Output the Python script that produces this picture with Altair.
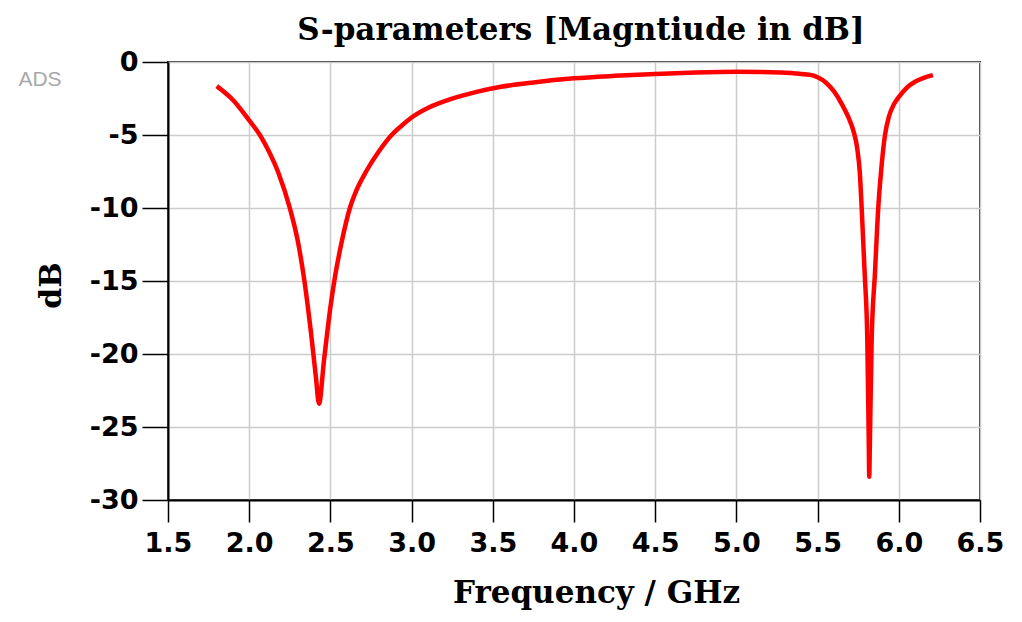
import altair as alt
import pandas as pd

freq_ghz = [1.80, 1.90, 2.00, 2.066, 2.12, 2.18, 2.25, 2.30, 2.34, 2.38, 2.41, 2.43,
            2.46, 2.50, 2.53, 2.57, 2.62, 2.66, 2.72, 2.80, 2.877, 2.94, 3.00, 3.10,
            3.24, 3.40, 3.55, 3.75, 4.00, 4.25, 4.50, 4.75, 5.00, 5.27, 5.40, 5.47,
            5.50, 5.55, 5.60, 5.65, 5.69, 5.72, 5.745, 5.76, 5.771, 5.79, 5.806, 5.815, 5.818,
            5.822, 5.833, 5.853, 5.874, 5.89, 5.915, 5.94, 5.97, 6.00, 6.05, 6.10, 6.15, 6.21]
mag_db = [-1.65, -2.6, -4.0, -5.0, -6.1, -7.6, -10.0, -12.3, -15.0, -18.5, -21.5, -23.4,
          -20.5, -16.8, -14.6, -12.3, -10.0, -8.8, -7.5, -6.1, -5.0, -4.35, -3.8, -3.15,
          -2.55, -2.05, -1.7, -1.4, -1.12, -0.95, -0.82, -0.72, -0.67, -0.72, -0.82, -0.92,
          -1.05, -1.4, -2.0, -2.9, -3.8, -4.7, -6.0, -7.6, -9.9, -14.5, -19.0, -26.0, -28.4,
          -26.0, -19.0, -14.5, -9.9, -7.6, -5.0, -3.7, -2.9, -2.4, -1.75, -1.35, -1.1, -0.9]

x_ticks = [1.5, 2.0, 2.5, 3.0, 3.5, 4.0, 4.5, 5.0, 5.5, 6.0, 6.5]
y_ticks = [0, -5, -10, -15, -20, -25, -30]

chart_title = "S-parameters [Magntiude in dB]"
watermark = "ADS"

df = pd.DataFrame({"f": freq_ghz, "db": mag_db})

serif = "DejaVu Serif"
sans = "DejaVu Sans"

line = alt.Chart(df).mark_line(color="#ff0000", strokeWidth=4.5, interpolate="monotone").encode(
    x=alt.X("f:Q",
            scale=alt.Scale(domain=[1.5, 6.5], nice=False, zero=False),
            axis=alt.Axis(values=x_ticks, format=".1f", title="Frequency / GHz",
                          grid=True, gridColor="#cccccc", gridWidth=1.5,
                          domainColor="#000000", domainWidth=2,
                          tickColor="#000000", tickWidth=1.5, tickSize=22,
                          labelFont=sans, labelFontWeight="bold", labelFontSize=27,
                          labelColor="#000000", labelPadding=8, labelFlush=False,
                          titleFont=serif, titleFontWeight="bold", titleFontSize=31,
                          titleColor="#000000", titleX=428, titleY=102,
                          titleAlign="center", titleBaseline="alphabetic")),
    y=alt.Y("db:Q",
            scale=alt.Scale(domain=[-30, 0], nice=False, zero=False),
            axis=alt.Axis(values=y_ticks, title="dB",
                          labelExpr="datum.value == 0 ? '0' : '-' + abs(datum.value)",
                          grid=True, gridColor="#cccccc", gridWidth=1.5,
                          domainColor="#000000", domainWidth=2,
                          tickColor="#000000", tickWidth=1.5, tickSize=26,
                          labelFont=sans, labelFontWeight="bold", labelFontSize=27,
                          labelColor="#000000", labelPadding=4, labelFlush=False,
                          titleFont=serif, titleFontWeight="bold", titleFontSize=30,
                          titleColor="#000000", titleAngle=-90, titleX=-108, titleY=223,
                          titleAlign="center", titleBaseline="alphabetic")),
)

ads = alt.Chart(pd.DataFrame({"t": [watermark]})).mark_text(
    font="Liberation Sans", fontSize=21, color="#a8a8a8", align="center", baseline="middle"
).encode(x=alt.value(-128), y=alt.value(18), text="t:N")

title_txt = alt.Chart(pd.DataFrame({"t": [chart_title]})).mark_text(
    font=serif, fontSize=31, fontWeight="bold", color="#000000",
    align="center", baseline="alphabetic"
).encode(x=alt.value(413), y=alt.value(-22), text="t:N")

chart = alt.layer(line, ads, title_txt).properties(
    width=812, height=438,
    autosize=alt.AutoSizeParams(type="none"),
    padding={"left": 168, "top": 62, "right": 42, "bottom": 122},
    background="white",
).configure_view(stroke="#333333", strokeWidth=2)

chart.save("out.html", embed_options={"renderer": "svg", "actions": False})
